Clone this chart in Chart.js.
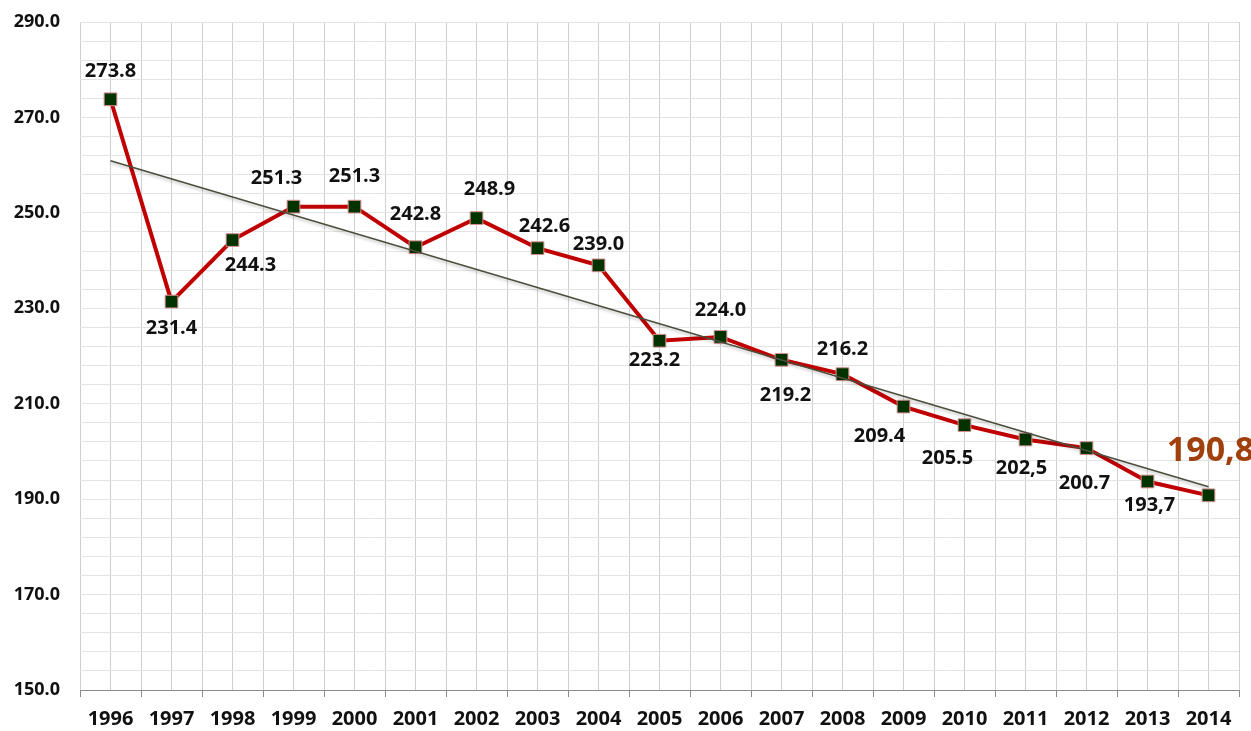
<!DOCTYPE html>
<html>
<head>
<meta charset="utf-8">
<script src="https://cdn.jsdelivr.net/npm/chart.js@4/dist/chart.umd.min.js"></script>
<style>
  html, body { margin: 0; padding: 0; background: #fff; }
  #wrap { width: 1251px; height: 731px; }
</style>
</head>
<body>
<div id="wrap"><canvas id="chart"></canvas></div>
<script>
let years = [1996, 1997, 1998, 1999, 2000, 2001, 2002, 2003, 2004, 2005, 2006, 2007, 2008, 2009, 2010, 2011, 2012, 2013, 2014]
let values = [273.8, 231.4, 244.3, 251.3, 251.3, 242.8, 248.9, 242.6, 239.0, 223.2, 224.0, 219.2, 216.2, 209.4, 205.5, 202.5, 200.7, 193.7, 190.8]
let valueLabels = ['273.8', '231.4', '244.3', '251.3', '251.3', '242.8', '248.9', '242.6', '239.0', '223.2', '224.0', '219.2', '216.2', '209.4', '205.5', '202,5', '200.7', '193,7', '190,8']
// trend line at its two ends
let trendYears = [1996, 2014]
let trendValues = [260.9, 192.6]

// label offsets from each point, in pixels
let labelDx = [0, 0, 18, -17, 0, 0, 13, 7, 0, -5, 0, 4, 0, -24, -17, -4, -2, 2, 2]
let labelDy = [-28, 27, 25, -28, -30, -33, -29, -22, -21, 20, -27, 35, -25, 30, 33, 29, 35, 24, -44]

let points = years.map(function (y, i) { return { x: y, y: values[i] } })
let trendPoints = trendYears.map(function (y, i) { return { x: y, y: trendValues[i] } })

let labelPlugin = {
    id: 'pointLabels',
    afterDatasetsDraw: function (chart) {
        let ctx = chart.ctx
        let meta = chart.getDatasetMeta(1)
        ctx.save()
        ctx.textAlign = 'center'
        ctx.textBaseline = 'middle'
        meta.data.forEach(function (pt, i) {
            let last = i === values.length - 1
            ctx.font = last ? 'bold 34px "Open Sans"' : 'bold 20px "Open Sans"'
            ctx.fillStyle = last ? '#a0400c' : '#111111'
            ctx.fillText(valueLabels[i], pt.x + labelDx[i], pt.y + labelDy[i])
        })
        ctx.restore()
    }
}

let shadowPlugin = {
    id: 'trendShadow',
    beforeDatasetDraw: function (chart, args) {
        if (args.index === 0) {
            chart.ctx.save()
            chart.ctx.shadowColor = 'rgba(0,0,0,0.25)'
            chart.ctx.shadowBlur = 3
            chart.ctx.shadowOffsetY = 2
        }
    },
    afterDatasetDraw: function (chart, args) {
        if (args.index === 0) chart.ctx.restore()
    }
}

let ctx = document.getElementById('chart').getContext('2d')
let chart = new Chart(ctx, {
    type: 'line',
    data: {
        datasets: [{
            label: 'Trend',
            data: trendPoints,
            borderColor: '#4d4d3d',
            borderWidth: 1.6,
            pointRadius: 0,
            fill: false
        }, {
            label: 'Values',
            data: points,
            borderColor: '#c00000',
            borderWidth: 4,
            pointStyle: 'rect',
            pointRadius: 9,
            pointBackgroundColor: '#003300',
            pointBorderColor: '#d49090',
            pointBorderWidth: 1,
            fill: false,
            tension: 0
        }]
    },
    plugins: [labelPlugin, shadowPlugin],
    options: {
        responsive: true,
        maintainAspectRatio: false,
        animation: false,
        layout: { padding: { top: 22, right: 12, left: 0, bottom: 0 } },
        plugins: {
            legend: { display: false },
            tooltip: { enabled: false }
        },
        scales: {
            x: {
                type: 'linear',
                min: 1995.5,
                max: 2014.5,
                afterBuildTicks: function (axis) {
                    let t = []
                    for (let v = 1995.5; v <= 2014.5001; v += 0.5) t.push({ value: v })
                    axis.ticks = t
                },
                afterFit: function (axis) {
                    axis.height = 41
                    axis.paddingLeft = 0
                    axis.paddingRight = 0
                },
                border: { color: '#8c8c8c', width: 1 },
                grid: {
                    color: '#cfcfcf',
                    tickLength: 7,
                    tickColor: function (c) {
                        return (c.tick && c.tick.value % 1 !== 0) ? '#8c8c8c' : 'rgba(0,0,0,0)'
                    }
                },
                ticks: {
                    autoSkip: false,
                    maxRotation: 0,
                    padding: 10,
                    color: '#111111',
                    font: { family: 'Open Sans', weight: 'bold', size: 20 },
                    callback: function (v) { return v % 1 === 0 ? String(v) : '' }
                }
            },
            y: {
                min: 150,
                max: 290,
                afterBuildTicks: function (axis) {
                    let t = []
                    for (let v = 150; v <= 290; v += 4) t.push({ value: v })
                    if (t[t.length - 1].value !== 290) t.push({ value: 290 })
                    axis.ticks = t
                },
                afterFit: function (axis) {
                    axis.width = 80
                    axis.paddingTop = 0
                    axis.paddingBottom = 0
                },
                border: { display: false },
                grid: {
                    color: '#e3e3e3',
                    drawTicks: false
                },
                ticks: {
                    autoSkip: false,
                    padding: 20,
                    color: '#111111',
                    font: { family: 'Open Sans', weight: 'bold', size: 18 },
                    callback: function (v) { return (v - 150) % 20 === 0 ? v.toFixed(1) : '' }
                }
            }
        }
    }
})
</script>
</body>
</html>
